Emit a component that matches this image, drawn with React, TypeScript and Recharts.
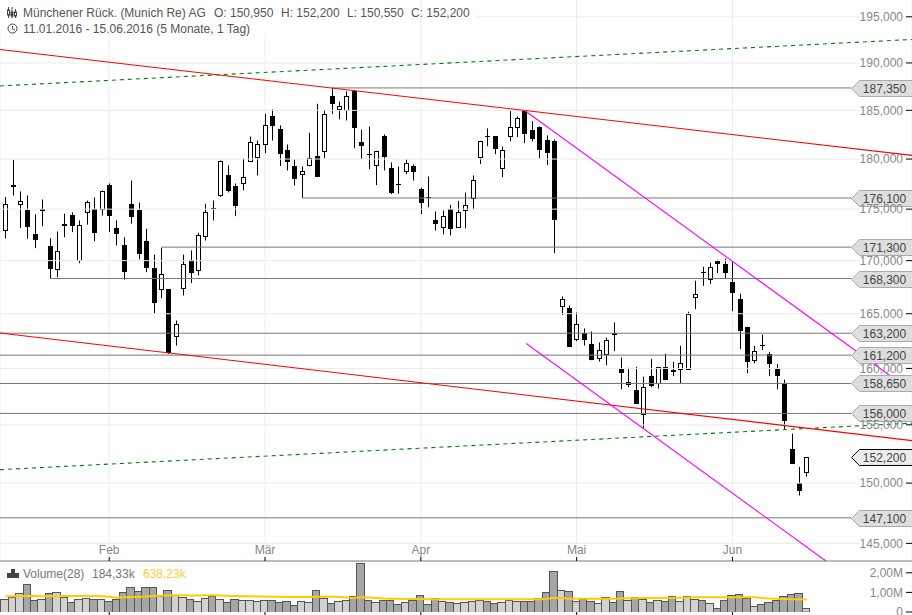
import { Bar, CartesianGrid, ComposedChart, Line, ReferenceDot, ReferenceLine, XAxis, YAxis } from "recharts";

const openP = [173010,177300,175490,174940,172590,174900,171430,169230,173440,174450,170090,174740,175040,175040,177350,173200,171530,175530,174940,171910,169320,167330,167270,162960,167330,170090,169130,172400,175140,176420,178350,177250,177570,179860,180190,181550,184440,183100,180940,179260,178480,179390,180340,180800,186450,185130,185060,187010,181690,180560,179430,182300,179120,177540,178820,179330,177020,176200,173960,173270,175040,173270,174940,176120,180190,182380,182300,179120,182380,183300,184920,182920,183230,181990,181790,165740,165550,162690,163240,162170,160920,161290,163240,159990,158620,158110,155960,159340,158710,160140,159880,159970,159970,166480,168960,168280,169990,169700,168000,166390,163790,160780,162140,161320,159990,158560,152920,150020,150950];
const highP = [176200,179910,176750,176350,174480,175950,172160,172810,174550,174680,173890,175850,176150,176850,177540,173890,172260,177840,175630,173080,170570,171240,167270,164370,170570,170980,172690,175530,175850,179860,179360,177540,180030,182300,181890,184650,185100,183440,181480,179960,179260,182690,185690,185060,187350,185900,186980,187150,182990,183330,180840,182510,179660,179260,179960,179460,177120,178240,174770,174870,175430,175820,176650,178350,181860,183130,182300,181280,184920,184370,184990,183880,183330,182410,181990,166610,165770,165120,163640,163360,162350,162790,164190,160980,160060,160140,159270,160870,160140,161320,160600,162050,165180,168090,169410,169800,170090,170190,169860,166860,163790,162050,163080,161500,160410,159000,154240,151380,152200];
const lowP = [172130,176350,173140,172100,171200,173330,168280,168430,172260,172750,169760,173470,171870,174380,172750,171460,168190,173570,170120,168900,165050,166450,161320,162080,166700,167870,168590,171940,173890,176220,176650,174310,176850,179790,178350,180600,181890,179290,178850,177350,176100,179260,178180,180090,184610,184060,183950,181100,179990,178980,177380,178850,176480,176520,178480,177840,174510,175170,172910,172550,172430,173180,173110,175000,179490,181310,180500,178180,181820,182230,181620,181790,180090,179390,170720,164870,161920,162470,162080,160740,160620,160290,161560,158140,158320,156810,154650,158320,158200,158940,159300,158670,159970,165420,167610,167770,168810,168340,165240,161740,159570,160470,161650,159300,158140,154590,151630,148970,150550];
const closeP = [175510,177400,175820,173230,171970,174970,169190,170950,173500,173330,173470,175720,172650,176780,174310,172650,168900,174210,170630,169280,165980,168750,161320,164070,169640,168810,172500,174740,175000,179830,176750,175290,178180,181760,181550,183510,183360,180500,179690,177970,178750,180130,178180,184650,185650,185480,186530,183160,181310,180510,180840,180190,176580,177480,179630,178680,175680,176160,173530,174350,173040,174740,175430,177910,181860,182230,180970,180940,183300,184230,182580,181990,180900,180700,173920,166390,161920,164070,162560,160740,161690,162600,163020,159660,158800,156870,158350,158490,160140,158940,159660,160510,165000,166800,168910,169410,169700,168810,167010,163390,160560,161590,162010,160380,159390,155310,151630,149310,152200];
const volumeM = [0.67,0.77,0.96,1.44,0.62,0.67,0.96,1.03,0.77,0.5,0.67,0.72,0.67,0.67,0.56,0.67,1.03,1.28,1.08,1.28,1.28,0.82,1.13,0.87,0.77,0.67,0.56,0.72,0.82,0.67,0.5,0.67,0.62,0.62,0.56,0.62,0.62,0.51,0.56,0.36,0.56,0.51,1.13,0.72,0.46,0.56,0.63,0.82,2.51,0.62,0.51,0.62,0.62,0.41,0.51,0.62,0.87,0.41,0.72,0.56,0.51,0.46,0.51,0.56,0.62,0.56,0.46,0.51,0.62,0.56,0.56,0.56,0.72,1.03,2.1,1.13,1.08,0.56,0.67,0.56,0.46,0.77,0.51,1.08,0.62,0.77,0.67,0.51,0.62,0.56,0.82,0.56,0.82,0.67,0.62,0.46,0.21,0.62,0.87,0.92,0.72,0.31,0.41,0.51,0.62,0.82,0.92,0.97,0.184];
const volumeMa = [0.8,0.8,0.8,0.81,0.81,0.8,0.8,0.8,0.81,0.81,0.81,0.81,0.81,0.8,0.78,0.73,0.75,0.76,0.77,0.79,0.81,0.83,0.85,0.85,0.85,0.84,0.84,0.85,0.85,0.84,0.82,0.81,0.8,0.8,0.79,0.79,0.78,0.78,0.77,0.77,0.77,0.77,0.78,0.79,0.78,0.76,0.74,0.73,0.75,0.74,0.72,0.69,0.67,0.67,0.66,0.66,0.66,0.65,0.65,0.65,0.65,0.65,0.65,0.65,0.65,0.65,0.65,0.65,0.65,0.65,0.65,0.65,0.65,0.67,0.72,0.73,0.68,0.67,0.67,0.67,0.67,0.68,0.68,0.69,0.7,0.7,0.71,0.71,0.72,0.72,0.73,0.73,0.74,0.75,0.75,0.75,0.75,0.75,0.75,0.75,0.75,0.75,0.72,0.69,0.67,0.66,0.65,0.65,0.638];

const priceTicks = [195000, 190000, 185000, 180000, 175000, 170000, 165000, 160000, 155000, 150000, 145000];
const monthTicks = [14, 35, 56, 77, 98];
const monthNames = ["Feb", "Mär", "Apr", "Mai", "Jun"];
const volumeTicks = [0, 1, 2];

// level value and the candle it starts from
const levelValues = [187350, 176100, 171300, 168300, 163200, 161200, 158650, 156000, 147100];
const levelStarts = [44, 40, 21, 6, -0.72, -0.72, -0.72, -0.72, -0.72];

const X_MIN = -0.72;
const X_MAX = 122.2;
const GRID_END = 115.2;
const TAG_X = 114;
const Y_MIN = 143570;
const Y_MAX = 196850;

const redLines = [
  [X_MIN, 191450, X_MAX, 180370],
  [X_MIN, 163220, X_MAX, 153630],
];
const greenLines = [
  [X_MIN, 187560, X_MAX, 192530],
  [X_MIN, 151140, X_MAX, 155150],
];
const magentaLines = [
  [70, 184990, 119.2, 159360],
  [70.2, 162260, 110.6, Y_MIN],
];

const fmt = (v: number) => v.toLocaleString("en-US");

const candles = openP.map((open, i) => ({
  idx: i,
  open,
  high: highP[i],
  low: lowP[i],
  close: closeP[i],
}));
const volumes = volumeM.map((vol, i) => ({
  idx: i,
  vol,
  ma: volumeMa[i],
  up: closeP[i] >= openP[i],
}));

function Candle(props: any) {
  const { x, y, width, height, payload } = props;
  const c = Math.round(x + width / 2 - 0.5) + 0.5;
  const range = Math.log(payload.high / payload.low);
  const toY = (p: number) => y + (height * Math.log(payload.high / p)) / range;
  const top = toY(Math.max(payload.open, payload.close));
  const bottom = toY(Math.min(payload.open, payload.close));
  const up = payload.close >= payload.open;
  const wick = <line x1={c} x2={c} y1={y} y2={y + height} stroke="#000" strokeWidth={1} />;
  if (up) {
    const t = Math.round(top) + 0.5;
    const h = Math.max(Math.round(bottom - top), 1);
    return (
      <g>
        {wick}
        <rect x={c - 2} y={t} width={4} height={h} fill="#fff" stroke="#000" strokeWidth={1} />
      </g>
    );
  }
  const t = Math.round(top);
  const h = Math.max(Math.round(bottom - top), 1);
  return (
    <g>
      {wick}
      <rect x={c - 2.5} y={t} width={5} height={h} fill="#000" />
    </g>
  );
}

function VolumeBar(props: any) {
  const { x, y, width, height, payload } = props;
  const center = x + width / 2 - 1;
  const left = Math.round(center - 3.71);
  const right = Math.round(center + 3.71);
  return (
    <rect
      x={left + 0.5}
      y={Math.round(y) + 0.5}
      width={right - left}
      height={height}
      fill={payload.up ? "#d2d2d2" : "#a6a6a6"}
      stroke="#555"
      strokeWidth={1}
    />
  );
}

function PriceTag({ cx, cy, value, last }: any) {
  const y = Math.round(cy) + 0.5;
  const tip = Math.round(cx) + 0.5;
  const right = tip + 62;
  const points = `${tip},${y} ${tip + 8},${y - 8} ${right},${y - 8} ${right},${y + 8} ${tip + 8},${y + 8}`;
  return (
    <g>
      <polygon points={points} fill={last ? "#ececec" : "#dedede"} stroke={last ? "#000" : "#aaa"} strokeWidth={1} />
      <text x={tip + 33} y={y + 4} textAnchor="middle" fontSize={12} fill="#444">
        {fmt(value)}
      </text>
    </g>
  );
}

function segment(line: number[]) {
  return [
    { x: line[0], y: line[1] },
    { x: line[2], y: line[3] },
  ] as any;
}

const headerText: React.CSSProperties = { position: "absolute", fontSize: 12, color: "#555", whiteSpace: "nowrap", lineHeight: "14px" };

function Header() {
  return (
    <>
      <div style={{ position: "absolute", left: 0, top: 0, width: 300, height: 33, background: "#fff" }} />
      <svg style={{ position: "absolute", left: 6, top: 6 }} width={12} height={28}>
        <path d="M2.5 1V12M6 1V12M9.5 3V12" stroke="#444" fill="none" />
        <rect x="1.5" y="4" width="2" height="5" fill="#fff" stroke="#444" />
        <rect x="5" y="6" width="2" height="4" fill="#444" stroke="#444" />
        <rect x="8.5" y="6" width="2" height="4" fill="#fff" stroke="#444" />
        <circle cx="6.5" cy="22.5" r="4.5" fill="none" stroke="#444" />
        <path d="M6.5 20V23L9 24" stroke="#444" fill="none" />
      </svg>
      <span style={{ ...headerText, left: 23, top: 6 }}>Münchener Rück. (Munich Re) AG</span>
      <span style={{ ...headerText, left: 214, top: 6 }}>O: 150,950</span>
      <span style={{ ...headerText, left: 281, top: 6 }}>H: 152,200</span>
      <span style={{ ...headerText, left: 347, top: 6 }}>L: 150,550</span>
      <span style={{ ...headerText, left: 411, top: 6 }}>C: 152,200</span>
      <span style={{ ...headerText, left: 23, top: 22 }}>11.01.2016 - 15.06.2016 (5 Monate, 1 Tag)</span>
    </>
  );
}

export default function App() {
  return (
    <div style={{ position: "absolute", left: 0, top: 0, width: 912, height: 615, overflow: "hidden", background: "#fff", fontFamily: "'Liberation Sans', Arial, sans-serif" }}>
      <div style={{ position: "absolute", left: 0, top: 0 }}>
        <ComposedChart width={912} height={562} data={candles} margin={{ top: 0, right: 0, bottom: 1, left: 0 }}>
          <CartesianGrid vertical horizontal={false} stroke="#ececec" />
          <XAxis
            dataKey="idx"
            type="number"
            domain={[X_MIN, X_MAX]}
            allowDataOverflow
            ticks={monthTicks}
            tickFormatter={(v: number) => monthNames[monthTicks.indexOf(v)]}
            mirror
            tickSize={4}
            tickMargin={3}
            tick={{ fill: "#888", fontSize: 12 }}
            tickLine={{ stroke: "#000" }}
            axisLine={{ stroke: "#777" }}
          />
          <YAxis
            orientation="right"
            mirror
            scale="log"
            domain={[Y_MIN, Y_MAX]}
            allowDataOverflow
            ticks={priceTicks}
            interval={0}
            tickFormatter={fmt}
            tickSize={6}
            tickMargin={3}
            tick={{ fill: "#888", fontSize: 12 }}
            tickLine={{ stroke: "#000" }}
            axisLine={false}
          />
          {priceTicks.map((p, i) => (
            <ReferenceLine key={p} segment={segment([i === 0 ? 63.5 : X_MIN, p, GRID_END, p])} stroke="#ececec" ifOverflow="visible" />
          ))}
          {levelValues.map((p, i) => (
            <ReferenceLine key={p} segment={segment([levelStarts[i], p, TAG_X, p])} stroke="#777" ifOverflow="visible" />
          ))}
          {greenLines.map((l, i) => (
            <ReferenceLine key={i} segment={segment(l)} stroke="#008000" strokeWidth={1.1} strokeDasharray="4 4" ifOverflow="visible" />
          ))}
          {redLines.map((l, i) => (
            <ReferenceLine key={i} segment={segment(l)} stroke="#ff0000" strokeWidth={1.1} ifOverflow="visible" />
          ))}
          {magentaLines.map((l, i) => (
            <ReferenceLine key={i} segment={segment(l)} stroke="#ff00ff" strokeWidth={1.1} ifOverflow="visible" />
          ))}
          <Bar dataKey={(d: any) => [d.low, d.high]} barSize={6} shape={<Candle />} isAnimationActive={false} />
          {levelValues.map((p) => (
            <ReferenceDot key={p} x={TAG_X} y={p} r={1} ifOverflow="visible" shape={(s: any) => <PriceTag {...s} value={p} />} />
          ))}
          <ReferenceDot x={TAG_X} y={152200} r={1} ifOverflow="visible" shape={(s: any) => <PriceTag {...s} value={152200} last />} />
        </ComposedChart>
      </div>
      <div style={{ position: "absolute", left: 0, top: 562 }}>
        <ComposedChart width={912} height={53} data={volumes} margin={{ top: 0, right: 0, bottom: 0, left: 0 }}>
          <XAxis
            dataKey="idx"
            type="number"
            domain={[X_MIN, X_MAX]}
            allowDataOverflow
            ticks={monthTicks}
            tickFormatter={() => ""}
            height={3}
            tickSize={3}
            tickLine={{ stroke: "#000" }}
            axisLine={false}
          />
          <YAxis
            orientation="right"
            mirror
            domain={[0, 2.55]}
            allowDataOverflow
            ticks={volumeTicks}
            interval={0}
            tickFormatter={(v: number) => (v === 0 ? "0" : `${v.toFixed(2).replace(".", ",")}M`)}
            tickSize={6}
            tickMargin={3}
            tick={{ fill: "#888", fontSize: 12 }}
            tickLine={{ stroke: "#000" }}
            axisLine={false}
          />
          <Bar dataKey="vol" barSize={7.42} shape={<VolumeBar />} isAnimationActive={false} />
          <Line dataKey="ma" stroke="#ffcc00" strokeWidth={2} dot={false} isAnimationActive={false} />
        </ComposedChart>
      </div>
      <Header />
      <svg style={{ position: "absolute", left: 7, top: 568 }} width={13} height={11}>
        <path d="M0 10V5H4V1H8V5H12V10Z" fill="#444" />
      </svg>
      <span style={{ ...headerText, left: 23, top: 567, color: "#777" }}>Volume(28)</span>
      <span style={{ ...headerText, left: 92, top: 567, color: "#777" }}>184,33k</span>
      <span style={{ ...headerText, left: 143, top: 567, color: "#ffcc33" }}>638,23k</span>
    </div>
  );
}
